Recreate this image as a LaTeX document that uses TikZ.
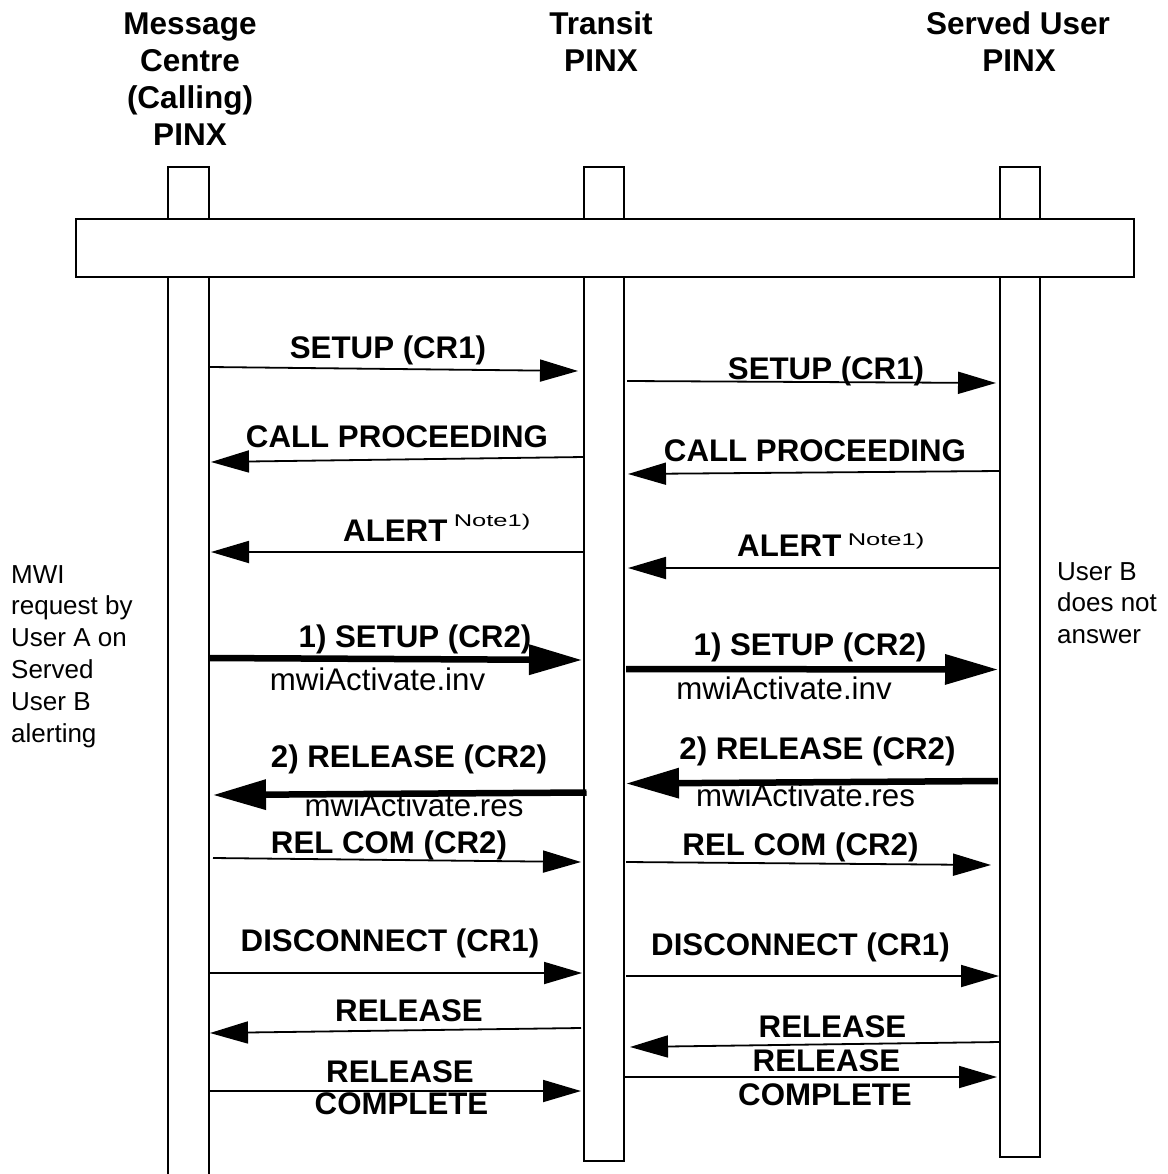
\documentclass[tikz,border=0pt]{standalone}
\usepackage{fontspec}
\setmainfont{Liberation Sans}
\newfontfamily\notefamily[FakeStretch=1.5]{Liberation Sans}
\usetikzlibrary{arrows.meta}
\begin{document}
\begin{tikzpicture}[x=1pt,y=-1pt,
  life/.style={line width=1.8pt},
  msg/.style={line width=1.8pt,-{Triangle[length=38pt,width=22pt]}},
  bigmsg/.style={line width=6.5pt,-{Triangle[length=53pt,width=29pt]}},
  lbl/.style={font=\bfseries\fontsize{31.25}{37}\selectfont,inner sep=0pt,anchor=base},
  lblr/.style={font=\fontsize{31.25}{37}\selectfont,inner sep=0pt,anchor=base},
  notelbl/.style={font=\notefamily\fontsize{17}{20}\selectfont,inner sep=0pt,anchor=base west},
  ttl/.style={font=\bfseries\fontsize{31.5}{37}\selectfont,inner sep=0pt,anchor=base},
  side/.style={font=\fontsize{26}{31.8}\selectfont,inner sep=0pt,anchor=base west}]
\useasboundingbox (0,0) rectangle (1167,1174);
\fill[white] (0,0) rectangle (1167,1174);

% titles
\node[ttl] (t1a) at (190,35) {Message};
\node[ttl] (t1b) at (190,72) {Centre};
\node[ttl] (t1c) at (190,109) {(Calling)};
\node[ttl] (t1d) at (190,146) {PINX};
\node[ttl] (t2a) at (601,35) {Transit};
\node[ttl] (t2b) at (601,72) {PINX};
\node[ttl] (t3a) at (1018,35) {Served User};
\node[ttl] (t3b) at (1019,72) {PINX};

% lifelines
\draw[life] (168,167) rectangle (209,1185);
\draw[life] (584,167) rectangle (624,1161);
\draw[life] (1000,167) rectangle (1040,1157);
\draw[life,fill=white] (76,219) rectangle (1134,277);

% side notes
\node[side] (m1) at (11,583) {MWI};
\node[side] (m2) at (11,614.8) {request by};
\node[side] (m3) at (11,646.6) {User A on};
\node[side] (m4) at (11,678.4) {Served};
\node[side] (m5) at (11,710.2) {User B};
\node[side] (m6) at (11,742) {alerting};
\node[side] (u1) at (1057,580) {User B};
\node[side] (u2) at (1057,611.8) {does not};
\node[side] (u3) at (1057,643.6) {answer};

% endpoints, left column
\coordinate (a1s) at (210,367);   \coordinate (a1e) at (578,371);
\coordinate (a2s) at (584,457);   \coordinate (a2e) at (211,462);
\coordinate (a3s) at (584,552);   \coordinate (a3e) at (211,552);
\coordinate (a4s) at (209,658);   \coordinate (a4e) at (582,660);
\coordinate (a5s) at (586.5,792.5); \coordinate (a5e) at (213,795);
\coordinate (a6s) at (213,858);   \coordinate (a6e) at (581,862);
\coordinate (a7s) at (209,973);   \coordinate (a7e) at (582,973);
\coordinate (a8s) at (581,1028);  \coordinate (a8e) at (210,1033);
\coordinate (a9s) at (209,1091);  \coordinate (a9e) at (581,1091);
% endpoints, right column
\coordinate (b1s) at (627,381);   \coordinate (b1e) at (996,383);
\coordinate (b2s) at (1000,471);  \coordinate (b2e) at (628,474);
\coordinate (b3s) at (1000,568);  \coordinate (b3e) at (628,568);
\coordinate (b4s) at (626,669);   \coordinate (b4e) at (998,669.5);
\coordinate (b5s) at (998,781);   \coordinate (b5e) at (626,783.5);
\coordinate (b6s) at (626,862);   \coordinate (b6e) at (991,865);
\coordinate (b7s) at (626,976);   \coordinate (b7e) at (999,976);
\coordinate (b8s) at (1000,1042); \coordinate (b8e) at (630,1047);
\coordinate (b9s) at (624,1077);  \coordinate (b9e) at (997,1077);

% labels, left column
\node[lbl] (l1) at (388,358) {SETUP (CR1)};
\node[lbl] (l2) at (397,447) {CALL PROCEEDING};
\node[lbl,anchor=base west] (l3) at (343,541) {ALERT};
\node[notelbl] (l3n) at ([xshift=6pt,yshift=15pt]l3.base east) {Note1)};
\node[lbl] (l4) at (415,647) {1) SETUP (CR2)};
\node[lblr] (l4b) at (377.5,690) {mwiActivate.inv};
\node[lbl] (l5) at (409,767) {2) RELEASE (CR2)};
\node[lblr] (l5b) at (414,816) {mwiActivate.res};
\node[lbl] (l6) at (389,853) {REL COM (CR2)};
\node[lbl] (l7) at (390,951) {DISCONNECT (CR1)};
\node[lbl] (l8) at (409,1021) {RELEASE};
\node[lbl] (l9a) at (400,1082) {RELEASE};
\node[lbl] (l9b) at (401.5,1114) {COMPLETE};

% labels, right column
\node[lbl] (r1) at (826,379) {SETUP (CR1)};
\node[lbl] (r2) at (815,461) {CALL PROCEEDING};
\node[lbl,anchor=base west] (r3) at (737,556) {ALERT};
\node[notelbl] (r3n) at ([xshift=6pt,yshift=11pt]r3.base east) {Note1)};
\node[lbl] (r4) at (810,655) {1) SETUP (CR2)};
\node[lblr] (r4b) at (784,699) {mwiActivate.inv};
\node[lbl] (r5) at (817.5,759) {2) RELEASE (CR2)};
\node[lblr] (r5b) at (805.5,806) {mwiActivate.res};
\node[lbl] (r6) at (800.5,855) {REL COM (CR2)};
\node[lbl] (r7) at (800.5,955) {DISCONNECT (CR1)};
\node[lbl] (r8) at (832.5,1037) {RELEASE};
\node[lbl] (r9a) at (826.5,1071) {RELEASE};
\node[lbl] (r9b) at (825,1105) {COMPLETE};

% messages
\draw[msg] (a1s) -- (a1e);
\draw[msg] (a2s) -- (a2e);
\draw[msg] (a3s) -- (a3e);
\draw[bigmsg] (a4s) -- (a4e);
\draw[bigmsg] (a5s) -- (a5e);
\draw[msg] (a6s) -- (a6e);
\draw[msg] (a7s) -- (a7e);
\draw[msg] (a8s) -- (a8e);
\draw[msg] (a9s) -- (a9e);
\draw[msg] (b1s) -- (b1e);
\draw[msg] (b2s) -- (b2e);
\draw[msg] (b3s) -- (b3e);
\draw[bigmsg] (b4s) -- (b4e);
\draw[bigmsg] (b5s) -- (b5e);
\draw[msg] (b6s) -- (b6e);
\draw[msg] (b7s) -- (b7e);
\draw[msg] (b8s) -- (b8e);
\draw[msg] (b9s) -- (b9e);
\end{tikzpicture}
\end{document}
